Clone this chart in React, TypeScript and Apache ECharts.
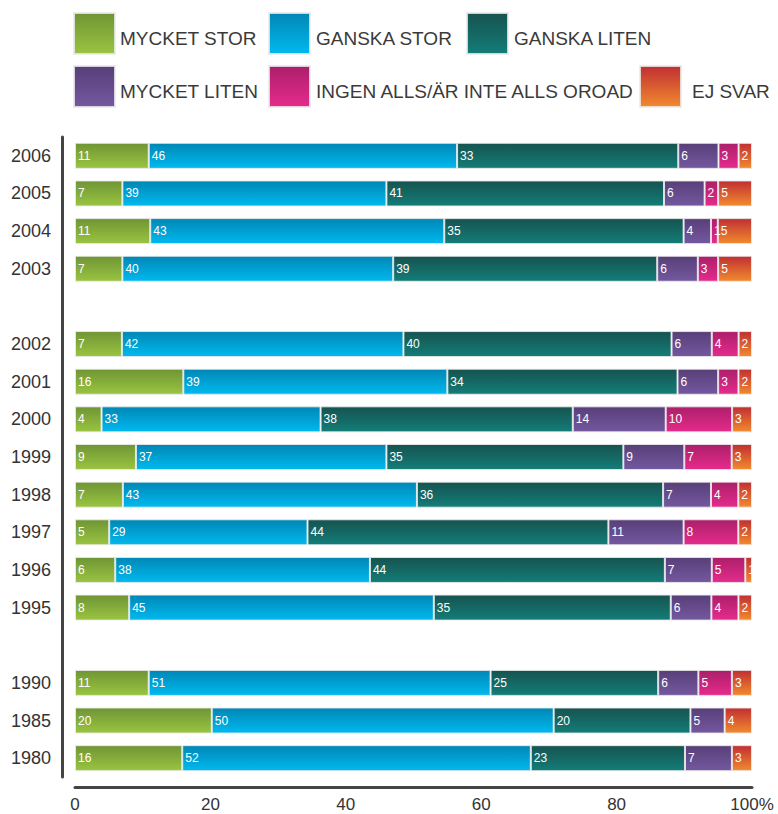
import React, { useEffect, useRef } from "react";
import * as echarts from "echarts";

const years = ["2006", "2005", "2004", "2003", " ", "2002", "2001", "2000", "1999", "1998", "1997", "1996", "1995", "  ", "1990", "1985", "1980"];
const seriesNames = ["MYCKET STOR", "GANSKA STOR", "GANSKA LITEN", "MYCKET LITEN", "INGEN ALLS/ÄR INTE ALLS OROAD", "EJ SVAR"];
const mycketStor = [11, 7, 11, 7, null, 7, 16, 4, 9, 7, 5, 6, 8, null, 11, 20, 16];
const ganskaStor = [46, 39, 43, 40, null, 42, 39, 33, 37, 43, 29, 38, 45, null, 51, 50, 52];
const ganskaLiten = [33, 41, 35, 39, null, 40, 34, 38, 35, 36, 44, 44, 35, null, 25, 20, 23];
const mycketLiten = [6, 6, 4, 6, null, 6, 6, 14, 9, 7, 11, 7, 6, null, 6, 5, 7];
const ingenAlls = [3, 2, 1, 3, null, 4, 3, 10, 7, 4, 8, 5, 4, null, 5, 0, 0];
const ejSvar = [2, 5, 5, 5, null, 2, 2, 3, 3, 2, 2, 1, 2, null, 3, 4, 3];
const xTicks = [0, 20, 40, 60, 80, 100];

const gradients: [string, string][] = [
  ["#6f9535", "#9ac441"],
  ["#0087b5", "#00b9ef"],
  ["#165350", "#137d78"],
  ["#583f78", "#7458a0"],
  ["#ac1f6a", "#e52b8c"],
  ["#c02f33", "#f28a2e"],
];

const legendPos = [
  { left: 73, top: 12, pad: 0 },
  { left: 268, top: 12, pad: 1 },
  { left: 466, top: 12, pad: 1 },
  { left: 73, top: 65, pad: 0 },
  { left: 268, top: 65, pad: 1 },
  { left: 639, top: 65, pad: 6 },
];

const FONT = "'Liberation Sans', Arial, Helvetica, sans-serif";

export default function App() {
  const ref = useRef<HTMLDivElement>(null);
  useEffect(() => {
    if (!ref.current) return;
    const chart = echarts.init(ref.current, null, { renderer: "svg" });
    const allSeries = [mycketStor, ganskaStor, ganskaLiten, mycketLiten, ingenAlls, ejSvar];
    const totals = years.map((_, i) =>
      allSeries.reduce((s, arr) => s + (arr[i] == null ? 0 : (arr[i] as number)), 0)
    );
    const series = allSeries.map((arr, si) => ({
      name: seriesNames[si],
      type: "bar",
      stack: "total",
      barWidth: 26,
      itemStyle: {
        color: {
          type: "linear",
          x: 0,
          y: 0,
          x2: 0,
          y2: 1,
          colorStops: [
            { offset: 0, color: gradients[si][0] },
            { offset: 1, color: gradients[si][1] },
          ],
        },
        borderColor: "rgba(235,235,235,0.85)",
        borderWidth: 1,
      },
      label: {
        show: true,
        position: "insideLeft",
        distance: 3,
        color: "#ffffff",
        fontSize: 12,
        fontFamily: FONT,
        formatter: (p: any) => (p.data && p.data.raw != null ? String(p.data.raw) : ""),
      },
      data: arr.map((v, i) =>
        v == null || v === 0 ? "-" : { value: (v / totals[i]) * 100, raw: v }
      ),
    }));

    const legends = seriesNames.map((n, i) => ({
      data: [n],
      left: legendPos[i].left,
      top: legendPos[i].top,
      padding: 0,
      itemWidth: 41,
      itemHeight: 41,
      icon: "rect",
      selectedMode: false,
      formatter: "{t|{name}}",
      textStyle: {
        fontSize: 19,
        color: "#3a3a3a",
        fontFamily: FONT,
        rich: {
          t: {
            fontSize: 19,
            color: "#3a3a3a",
            fontFamily: FONT,
            padding: [10, 0, 0, legendPos[i].pad],
          },
        },
      },
    }));

    chart.setOption({
      animation: false,
      legend: legends,
      grid: { left: 75, right: 26, top: 137, bottom: 37, containLabel: false },
      xAxis: {
        type: "value",
        min: 0,
        max: 100,
        interval: 20,
        offset: 10,
        axisLine: { show: true, onZero: false, lineStyle: { color: "#444", width: 3 } },
        axisTick: { show: false },
        splitLine: { show: false },
        axisLabel: {
          fontSize: 17,
          color: "#333",
          fontFamily: FONT,
          margin: 9,
          formatter: (v: number) => (xTicks.includes(v) ? (v === 100 ? "100%" : String(v)) : ""),
        },
      },
      yAxis: {
        type: "category",
        data: years,
        inverse: true,
        offset: 13,
        axisLine: { show: true, onZero: false, lineStyle: { color: "#444", width: 3 } },
        axisTick: { show: false },
        axisLabel: {
          fontSize: 18,
          color: "#333",
          fontFamily: FONT,
          margin: 11,
          formatter: (v: string) => v.trim(),
        },
      },
      series,
    });
    return () => chart.dispose();
  }, []);
  return (
    <div
      ref={ref}
      style={{ position: "fixed", left: 0, top: 0, width: 778, height: 814, background: "#fff" }}
    />
  );
}
